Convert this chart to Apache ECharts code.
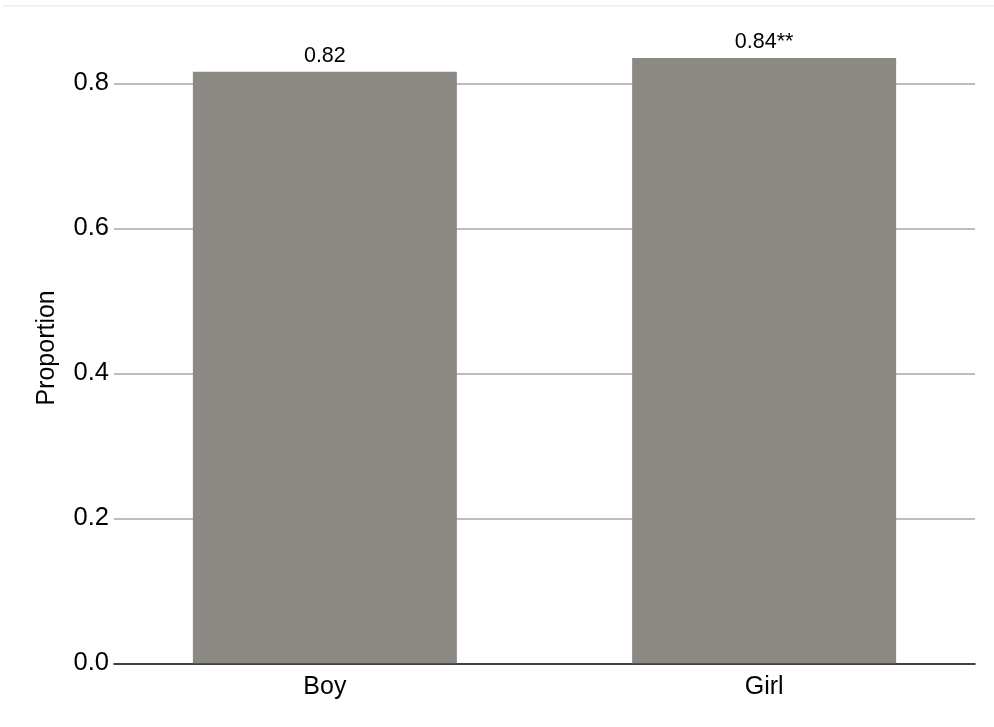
<!DOCTYPE html>
<html>
<head>
<meta charset="utf-8">
<script src="https://cdn.jsdelivr.net/npm/echarts@6/dist/echarts.min.js"></script>
<style>html,body{margin:0;padding:0;background:#fff}#c{width:994px;height:727px}</style>
</head>
<body>
<div id="c"></div>
<script>
var categories = ['Boy', 'Girl'];
var proportions = [0.816, 0.835];
var valueLabels = ['0.82', '0.84**'];
var yTicks = [0, 0.2, 0.4, 0.6, 0.8];

var FONT = '"Liberation Sans", Arial, sans-serif';
var chart = echarts.init(document.getElementById('c'));
var barData = categories.map(function (c, i) { return [i + 1, proportions[i]]; });

chart.setOption({
  animation: false,
  backgroundColor: '#ffffff',
  grid: { left: 114, right: 19, top: 32.5, bottom: 63.7 },
  graphic: [{
    type: 'rect', left: 3, top: 5, shape: { width: 991, height: 1.5 },
    style: { fill: '#e8eeee' }, silent: true
  }],
  xAxis: {
    type: 'value', min: 0.52, max: 2.48,
    axisLine: { show: true, onZero: false, lineStyle: { color: '#000', width: 1.6 } },
    axisTick: { show: false },
    splitLine: { show: false },
    axisLabel: {
      customValues: categories.map(function (c, i) { return i + 1; }),
      formatter: function (v) { return categories[Math.round(v) - 1] || ''; },
      fontSize: 25, color: '#000', fontFamily: FONT, margin: 11
    }
  },
  yAxis: {
    type: 'value', min: 0, max: 0.87,
    name: 'Proportion', nameLocation: 'middle', nameGap: 54,
    nameTextStyle: { fontSize: 25, color: '#000', fontFamily: FONT },
    axisLine: { show: false }, axisTick: { show: false },
    splitLine: { show: false },
    axisLabel: {
      customValues: yTicks,
      formatter: function (v) { return v.toFixed(1); },
      fontSize: 25.5, color: '#000', fontFamily: FONT, margin: 5
    }
  },
  series: [{
    type: 'bar',
    data: barData,
    barWidth: 264,
    itemStyle: { color: '#8c8984' },
    label: {
      show: true, position: 'top', distance: 5,
      formatter: function (p) { return valueLabels[p.dataIndex]; },
      fontSize: 21.5, color: '#000', fontFamily: FONT
    },
    z: 3,
    markLine: {
      silent: true, symbol: 'none', label: { show: false },
      lineStyle: { color: '#bdbdbd', width: 2, type: 'solid' },
      data: yTicks.slice(1).map(function (t) { return { yAxis: t }; }),
      z: 1
    }
  }]
});
</script>
</body>
</html>
